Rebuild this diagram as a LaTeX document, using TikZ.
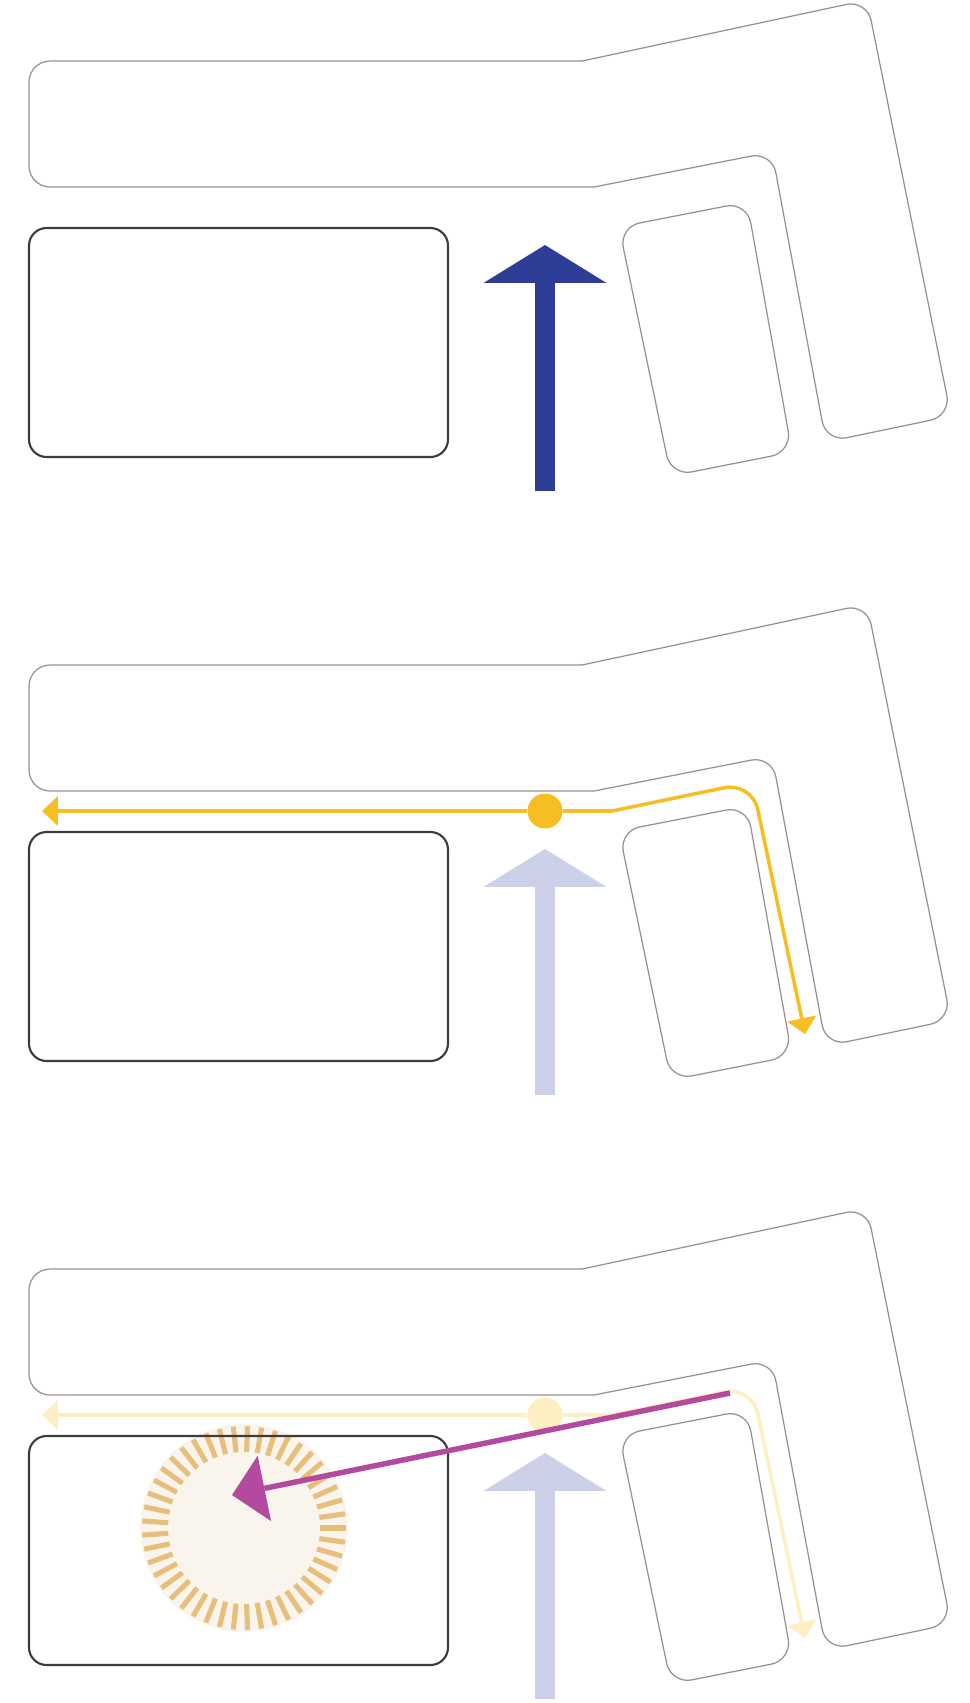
\documentclass[tikz,border=0pt]{standalone}
\usepackage{xcolor}
\usepackage{tikz}
\usetikzlibrary{arrows.meta}

\definecolor{wallgray}{RGB}{152,144,142}
\definecolor{deskline}{RGB}{60,60,60}
\definecolor{flowblue}{RGB}{46,62,150}
\definecolor{flowbluelight}{RGB}{204,208,232}
\definecolor{pathyellow}{RGB}{247,190,35}
\definecolor{pathyellowlight}{RGB}{253,239,194}
\definecolor{throwpink}{RGB}{178,74,158}
\definecolor{spotorange}{RGB}{232,190,125}
\definecolor{spotcream}{RGB}{250,245,236}

\begin{document}
\begin{tikzpicture}[x=0.1mm, y=-0.1mm,
  wall/.style={draw=wallgray, line width=0.35pt, rounded corners=6pt},
  desk/.style={draw=deskline, line width=0.6pt, rounded corners=5pt},
  inflow/.style={line width=5.7pt, -{Triangle[width=35pt, length=10.8pt, line width=0pt]}},
  lane/.style={line width=1pt},
  route/.style={lane, rounded corners=8pt, -{Triangle[width=8.5pt, length=4.5pt, line width=0pt]}},
  hub/.style={circle, inner sep=0pt, minimum size=3.5mm},
  ray/.style={draw=spotorange, line width=1.45pt},
  throw/.style={draw=throwpink, line width=1.55pt, -{Triangle[width=19pt, length=9.4pt, line width=0pt]}}
]
\useasboundingbox (0,0) rectangle (970,1703);

%--- Spot in panel 3 (under the desk outline) ---
\coordinate (spot) at (244,1528);
\fill[spotcream] (spot) circle[radius=104];
\foreach \a in {0,8,...,352}
  \draw[ray] ([shift={(\a:76)}]spot) -- ([shift={(\a:102)}]spot);

%--- Floor plan, same in every panel ---
\foreach \p/\oy in {1/0, 2/604, 3/1208}{
  \begin{scope}[shift={(0,\oy)}]
    % counter: two open runs so the kinks stay sharp
    \draw[wall] (582,61) -- (867,0) -- (951,416) -- (826,442) -- (772,152) -- (594,187);
    \draw[wall] (594,187) -- (29,187) -- (29,61) -- (582,61);
    \draw[wall] (619,227) -- (747,202) -- (792,452) -- (671,476) -- cycle;
    \draw[desk] (29,228) rectangle (448,457);
    \coordinate (tail\p) at (545,491);
    \coordinate (tip\p) at (545,245);
    \coordinate (hubpos\p) at (545,207);
    \coordinate (west\p) at (42,207);
    \coordinate (bend\p) at (612,207);
    \coordinate (turn\p) at (752,178);
    \coordinate (south\p) at (805,430);
  \end{scope}
}

%--- Panel 1 ---
\draw[inflow, flowblue] (tail1) -- (tip1);

%--- Panel 2 ---
\draw[inflow, flowbluelight] (tail2) -- (tip2);
\node[hub, fill=pathyellow] (hub2) at (hubpos2) {};
\draw[route, pathyellow] (hub2) -- (west2);
\draw[lane, pathyellow] (hub2) -- (bend2);
\draw[route, pathyellow] (bend2) -- (turn2) -- (south2);

%--- Panel 3 ---
\draw[inflow, flowbluelight] (tail3) -- (tip3);
\node[hub, fill=pathyellowlight] (hub3) at (hubpos3) {};
\draw[route, pathyellowlight] (hub3) -- (west3);
\draw[lane, pathyellowlight] (hub3) -- (bend3);
\draw[route, pathyellowlight] (bend3) -- (turn3) -- (south3);
\coordinate (launch) at (730,1393);
\coordinate (aim) at (232,1495);
\draw[throw] (launch) -- (aim);
\end{tikzpicture}
\end{document}
